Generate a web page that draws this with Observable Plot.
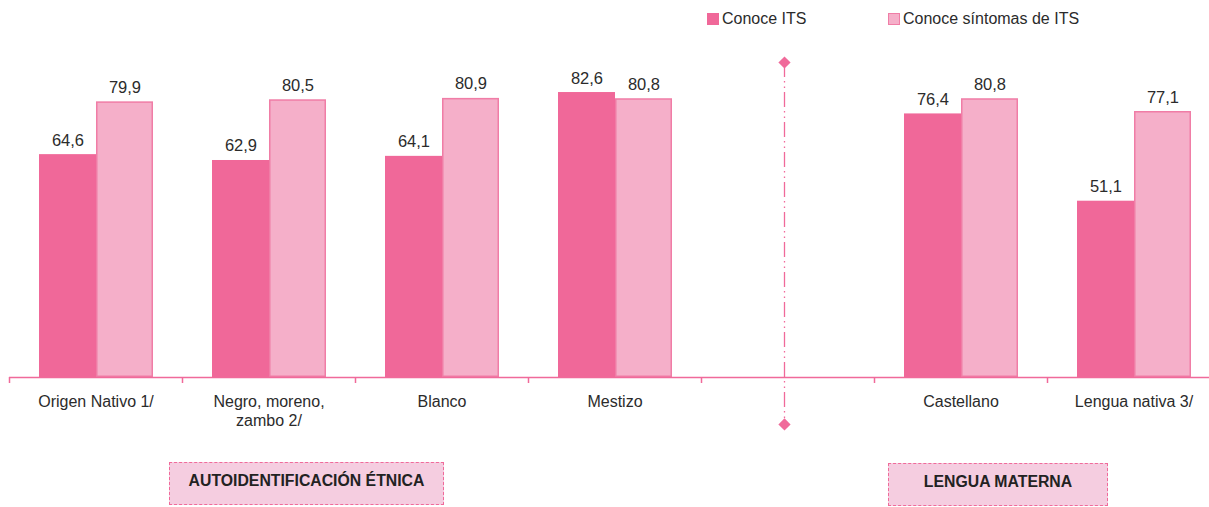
<!DOCTYPE html>
<html><head><meta charset="utf-8">
<script src="https://cdn.jsdelivr.net/npm/d3@7"></script>
<script src="https://cdn.jsdelivr.net/npm/@observablehq/plot@0.6"></script>
<style>
html,body{margin:0;padding:0;background:#fff;overflow:hidden;width:1209px;height:507px}
body{font-family:"Liberation Sans",Arial,sans-serif;color:#2b2b2b;position:relative}
#legend{position:relative;height:40px}
.sw{position:absolute;top:13px;width:12px;height:12px;box-sizing:border-box}
.lt{position:absolute;top:9px;font-size:16px;line-height:20px;white-space:nowrap}
#chart{width:1220px}
#chart svg{display:block;overflow:visible;max-width:none}
#notes{position:relative;height:57px}
.box{position:absolute;box-sizing:border-box;border:1.5px dashed #f06a9a;background:#f5cde0;font-weight:bold;display:flex;align-items:center;justify-content:center;font-size:15.8px;padding-bottom:5px;color:#222}
</style></head><body>
<div id="legend"></div><div id="chart"></div><div id="notes"></div>
<script>
const categories = ["Origen Nativo 1/", "Negro, moreno,\nzambo 2/", "Blanco", "Mestizo", " ", "Castellano", "Lengua nativa 3/"];
const seriesNames = ["Conoce ITS", "Conoce síntomas de ITS"];
const conoceITS = [64.6, 62.9, 64.1, 82.6, null, 76.4, 51.1];
const conoceSintomas = [79.9, 80.5, 80.9, 80.8, null, 80.8, 77.1];
const groupLabels = ["AUTOIDENTIFICACIÓN ÉTNICA", "LENGUA MATERNA"];
const gapCategory = " ";
const dividerExtent = [91.3, -13.6];

const colors = ["#f06899", "#f5afc9"];
const strokes = ["none", "#f07da6"];
const axisColor = "#f06a9a";
const font = '"Liberation Sans",Arial,sans-serif';

const rows = categories.flatMap((c, i) => [
  {cat: c, series: seriesNames[0], value: conoceITS[i]},
  {cat: c, series: seriesNames[1], value: conoceSintomas[i]}
]).filter(d => d.value != null);

// legend
const legend = document.getElementById("legend");
const legendPos = [[707, 722], [888, 903]];
seriesNames.forEach((s, i) => {
  const sw = document.createElement("div");
  sw.className = "sw";
  sw.style.left = legendPos[i][0] + "px";
  sw.style.background = colors[i];
  if (strokes[i] !== "none") sw.style.border = "1.5px solid " + strokes[i];
  legend.appendChild(sw);
  const t = document.createElement("div");
  t.className = "lt";
  t.style.left = legendPos[i][1] + "px";
  t.textContent = s;
  legend.appendChild(t);
});

const W = 1220, H = 410;
const bandW = (W - 9) / categories.length;
const fmt = v => v.toFixed(1).replace(".", ",");

const chart = Plot.plot({
  width: W, height: H,
  marginLeft: 9, marginRight: 0, marginTop: 26.5, marginBottom: 73,
  style: {fontFamily: font, fontSize: "16px", color: "#2b2b2b", background: "transparent", maxWidth: "none"},
  fx: {domain: categories, paddingInner: 0, paddingOuter: 0, label: null},
  x: {domain: seriesNames, paddingInner: 0, paddingOuter: 0.5, axis: null},
  y: {domain: [0, 90], axis: null},
  marks: [
    Plot.barY(rows.filter(d => d.series === seriesNames[0]), {fx: "cat", x: "series", y: "value", fill: colors[0]}),
    Plot.barY(rows.filter(d => d.series === seriesNames[1]), {fx: "cat", x: "series", y: "value", fill: colors[1], stroke: strokes[1], strokeWidth: 1.5, inset: 0.75}),
    Plot.text(rows, {fx: "cat", x: "series", y: "value", text: d => fmt(d.value), dy: -9, lineAnchor: "bottom", fill: "#2b2b2b", fontSize: 16.5}),
    Plot.ruleY([0], {stroke: axisColor, strokeWidth: 1.5}),
    Plot.axisFx({anchor: "bottom", text: null, tickSize: 6, dx: -bandW / 2, stroke: axisColor, strokeWidth: 1.5, label: null}),
    Plot.axisFx({anchor: "bottom", tickSize: 0, tickPadding: 16, label: null, fontSize: 16, lineHeight: 1.2, fill: "#2b2b2b"}),
    Plot.ruleX([gapCategory], {fx: d => d, x: null, dx: -3.5, y1: dividerExtent[0], y2: dividerExtent[1], stroke: axisColor, strokeWidth: 1.3, strokeDasharray: "15,4,1.5,4,1.5,4"}),
    Plot.dot(dividerExtent, {fx: () => gapCategory, y: d => d, dx: -3.5, symbol: "diamond2", r: 5.5, fill: axisColor, stroke: "none", frameAnchor: "middle"})
  ]
});
document.getElementById("chart").appendChild(chart);

// group boxes
const notes = document.getElementById("notes");
const boxPos = [[169, 12, 275, 43], [888, 13, 220, 43]];
groupLabels.forEach((g, i) => {
  const b = document.createElement("div");
  b.className = "box";
  const [l, t, w, h] = boxPos[i];
  Object.assign(b.style, {left: l + "px", top: t + "px", width: w + "px", height: h + "px"});
  b.textContent = g;
  notes.appendChild(b);
});
</script>
</body></html>
